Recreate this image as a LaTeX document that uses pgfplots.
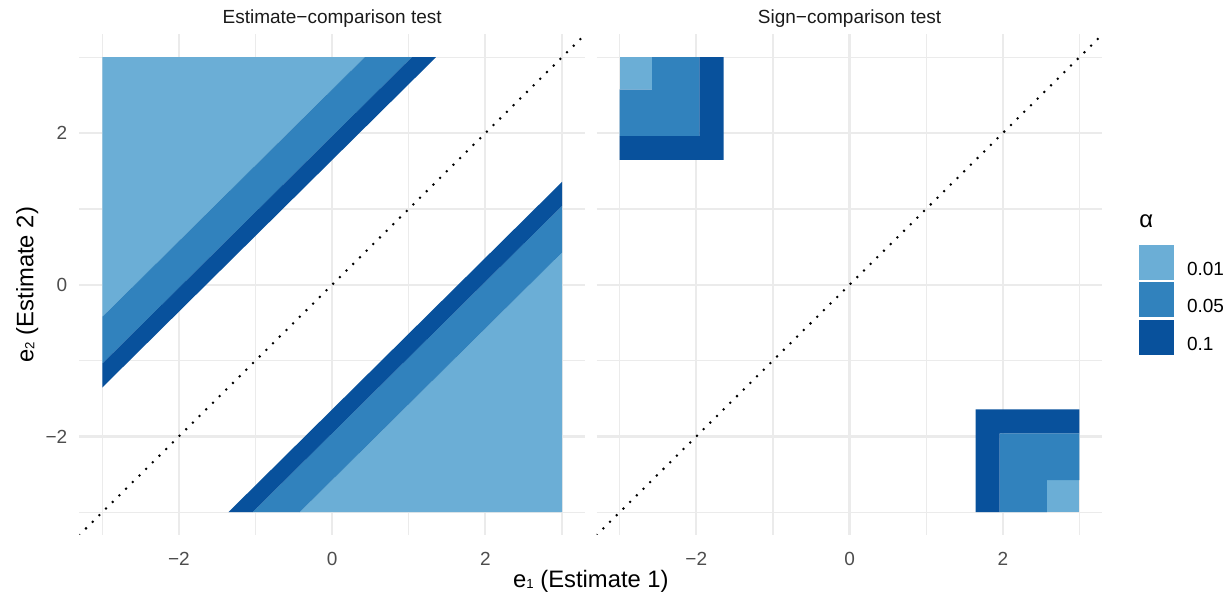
\documentclass[border=0pt]{standalone}
\usepackage{fontspec}
\setmainfont{Liberation Sans}
\usepackage{pgfplots}
\pgfplotsset{compat=1.18}
\definecolor{cA}{HTML}{6BAED6}
\definecolor{cB}{HTML}{3182BD}
\definecolor{cC}{HTML}{08519C}
\definecolor{gridc}{HTML}{EBEBEB}
\definecolor{tickc}{HTML}{4D4D4D}
\definecolor{stripc}{HTML}{1A1A1A}
\newcommand{\smallf}{\fontsize{9.5}{11}\selectfont}
\newcommand{\bigf}{\fontsize{11.9}{14}\selectfont}
\newcommand{\sub}[1]{\raisebox{-0.6pt}{\fontsize{6.6}{8}\selectfont #1}}
\pgfplotsset{panel/.style={
  width=252.85pt, height=250.25pt, scale only axis,
  xmin=-3.3,xmax=3.3,ymin=-3.3,ymax=3.3,
  axis line style={draw=none},
  xtick={-2,0,2}, ytick={-2,0,2},
  minor xtick={-3,-1,1,3}, minor ytick={-3,-1,1,3},
  xticklabels={−2,0,2},
  major tick length=0pt, minor tick length=0pt,
  grid=both,
  major grid style={gridc, line width=1.1pt},
  minor grid style={gridc, line width=0.6pt},
  xticklabel style={font=\smallf, text=tickc, inner sep=0pt, anchor=north, yshift=-8.5pt},
  yticklabel style={font=\smallf, text=tickc, inner sep=0pt, anchor=east, xshift=-5.8pt},
  every axis title shift=0pt,
  title style={font=\smallf, text=stripc, at={(0.5,1)}, anchor=base, inner sep=0pt, yshift=5.25pt},
  clip mode=individual,
},
dotline/.style={black, line width=1.4pt, dash pattern=on 0pt off 4.7pt, line cap=round}}
\begin{document}
\begin{tikzpicture}
\path[use as bounding box] (0,0) rectangle (614pt,296pt);
% ---------------- left panel ----------------
\begin{axis}[panel, at={(39.65pt,28.5pt)}, anchor=south west,
  title={Estimate−comparison test},
  yticklabels={−2,0,2},
  xlabel={e\sub{1} (Estimate 1)},
  xlabel style={at={(axis description cs:1.0117,-0.1049)}, anchor=base, inner sep=0pt, font=\bigf},
  ylabel={e\sub{2} (Estimate 2)},
  ylabel style={at={(axis description cs:-0.091,0.5)}, anchor=base, inner sep=0pt, font=\bigf},
]
% upper-left bands
\addplot[fill=cA, draw=none] coordinates {(-3,-0.4242) (-3,3) (0.4242,3)} -- cycle;
\addplot[fill=cB, draw=none] coordinates {(-3,-1.04) (-3,-0.4242) (0.4242,3) (1.04,3)} -- cycle;
\addplot[fill=cC, draw=none] coordinates {(-3,-1.3551) (-3,-1.04) (1.04,3) (1.3551,3)} -- cycle;
% lower-right bands
\addplot[fill=cA, draw=none] coordinates {(-0.4242,-3) (3,-3) (3,0.4242)} -- cycle;
\addplot[fill=cB, draw=none] coordinates {(-1.04,-3) (-0.4242,-3) (3,0.4242) (3,1.04)} -- cycle;
\addplot[fill=cC, draw=none] coordinates {(-1.3551,-3) (-1.04,-3) (3,1.04) (3,1.3551)} -- cycle;
\addplot[dotline] coordinates {(-3.3,-3.3) (3.3,3.3)};
\end{axis}
% ---------------- right panel ----------------
\begin{axis}[panel, at={(298.35pt,28.5pt)}, anchor=south west,
  title={Sign−comparison test},
  yticklabels={},
  legend image code/.code={\fill[#1] (0pt,-5pt) rectangle (17.5pt,12.5pt);},
  legend cell align=left,
  legend style={draw=none, fill=none, inner sep=0pt, outer sep=0pt,
    at={(axis description cs:1.0724,0.5794)}, anchor=north west,
    row sep=1.25pt, column sep=6.5pt, font=\smallf,
    nodes={inner sep=0pt, text=black}},
]
\addplot[fill=cA, draw=none] coordinates {(-3,2.5758) (-3,3) (-2.5758,3) (-2.5758,2.5758)} -- cycle;
\addlegendentry{0.01}
\addplot[fill=cB, draw=none] coordinates {(-3,1.96) (-3,2.5758) (-2.5758,2.5758) (-2.5758,3) (-1.96,3) (-1.96,1.96)} -- cycle;
\addlegendentry{0.05}
\addplot[fill=cC, draw=none] coordinates {(-3,1.6449) (-3,1.96) (-1.96,1.96) (-1.96,3) (-1.6449,3) (-1.6449,1.6449)} -- cycle;
\addlegendentry{0.1}
\addplot[fill=cA, draw=none, forget plot] coordinates {(2.5758,-3) (3,-3) (3,-2.5758) (2.5758,-2.5758)} -- cycle;
\addplot[fill=cB, draw=none, forget plot] coordinates {(1.96,-3) (2.5758,-3) (2.5758,-2.5758) (3,-2.5758) (3,-1.96) (1.96,-1.96)} -- cycle;
\addplot[fill=cC, draw=none, forget plot] coordinates {(1.6449,-3) (1.96,-3) (1.96,-1.96) (3,-1.96) (3,-1.6449) (1.6449,-1.6449)} -- cycle;
\addplot[dotline, forget plot] coordinates {(-3.3,-3.3) (3.3,3.3)};
\node[anchor=base west, inner sep=0pt, font=\bigf] at (axis description cs:1.0724,0.6134) {α};
\end{axis}
\end{tikzpicture}
\end{document}
